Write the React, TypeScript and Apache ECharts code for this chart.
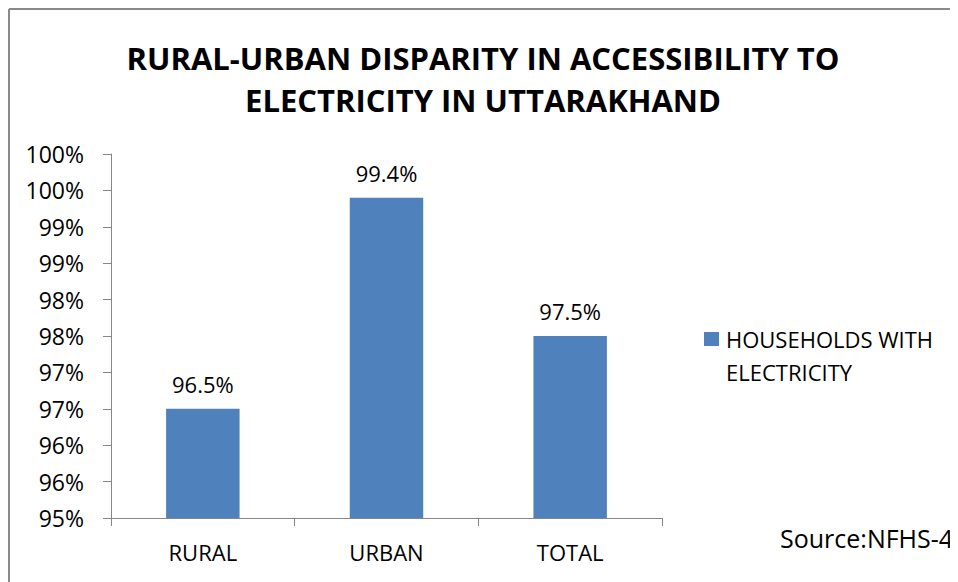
import React, { useEffect, useRef } from "react";
import * as echarts from "echarts";

const categories = ["RURAL", "URBAN", "TOTAL"];
const householdsWithElectricity = [96.5, 99.4, 97.5];
const seriesName = "HOUSEHOLDS WITH ELECTRICITY";
const legendLines = ["HOUSEHOLDS WITH", "ELECTRICITY"];
const titleLines = ["RURAL-URBAN DISPARITY IN ACCESSIBILITY TO", "ELECTRICITY IN UTTARAKHAND"];
const sourceText = "Source:NFHS-4";

const FONT = "'Open Sans', 'Noto Sans', sans-serif";
const BAR = "#4F81BD";
const AXIS = "#868686";

export default function App() {
  const ref = useRef<HTMLDivElement>(null);
  useEffect(() => {
    if (!ref.current) return;
    const chart = echarts.init(ref.current, null, { renderer: "svg" });
    chart.setOption({
      animation: false,
      backgroundColor: "#ffffff",
      title: {
        text: titleLines.join("\n"),
        left: "center",
        top: 29,
        padding: 0,
        textStyle: {
          fontFamily: FONT,
          fontWeight: "bold",
          fontSize: 31,
          lineHeight: 42,
          color: "#000",
        },
      },
      grid: { left: 103, top: 146, width: 551, height: 364, containLabel: false },
      xAxis: {
        type: "category",
        data: categories,
        axisLine: { show: true, lineStyle: { color: AXIS, width: 1 } },
        axisTick: { show: true, length: 8, lineStyle: { color: AXIS } },
        axisLabel: { fontFamily: FONT, fontSize: 22, color: "#000", margin: 23 },
      },
      yAxis: {
        type: "value",
        min: 95,
        max: 100,
        interval: 0.5,
        splitLine: { show: false },
        axisLine: { show: true, lineStyle: { color: AXIS, width: 1 } },
        axisTick: { show: true, length: 8, lineStyle: { color: AXIS } },
        axisLabel: {
          fontFamily: FONT,
          fontSize: 23,
          color: "#000",
          margin: 27,
          formatter: (v: number) => Math.round(v) + "%",
        },
      },
      series: [
        {
          name: seriesName,
          type: "bar",
          data: householdsWithElectricity,
          barCategoryGap: "60%",
          itemStyle: { color: BAR },
          label: {
            show: true,
            position: "top",
            distance: 14,
            fontFamily: FONT,
            fontSize: 22,
            color: "#000",
            formatter: (p: any) => p.value.toFixed(1) + "%",
          },
        },
      ],
      graphic: [
        {
          type: "line",
          shape: { x1: 1, y1: 1, x2: 950, y2: 1 },
          style: { stroke: "#8a8a8a", lineWidth: 2 },
        },
        {
          type: "line",
          shape: { x1: 1, y1: 1, x2: 1, y2: 574 },
          style: { stroke: "#8a8a8a", lineWidth: 2 },
        },
        {
          type: "rect",
          shape: { x: 696, y: 324, width: 15, height: 14 },
          style: { fill: BAR },
        },
        {
          type: "text",
          x: 718,
          y: 314.5,
          style: {
            text: legendLines.join("\n"),
            fontFamily: FONT,
            fontSize: 22,
            lineHeight: 33,
            fill: "#000",
            verticalAlign: "top",
          },
        },
        {
          type: "text",
          x: 772,
          y: 530,
          style: {
            text: sourceText,
            fontFamily: FONT,
            fontSize: 25,
            fill: "#000",
            verticalAlign: "middle",
          },
        },
      ],
    });
    return () => chart.dispose();
  }, []);
  return <div ref={ref} style={{ width: 950, height: 574 }} />;
}
